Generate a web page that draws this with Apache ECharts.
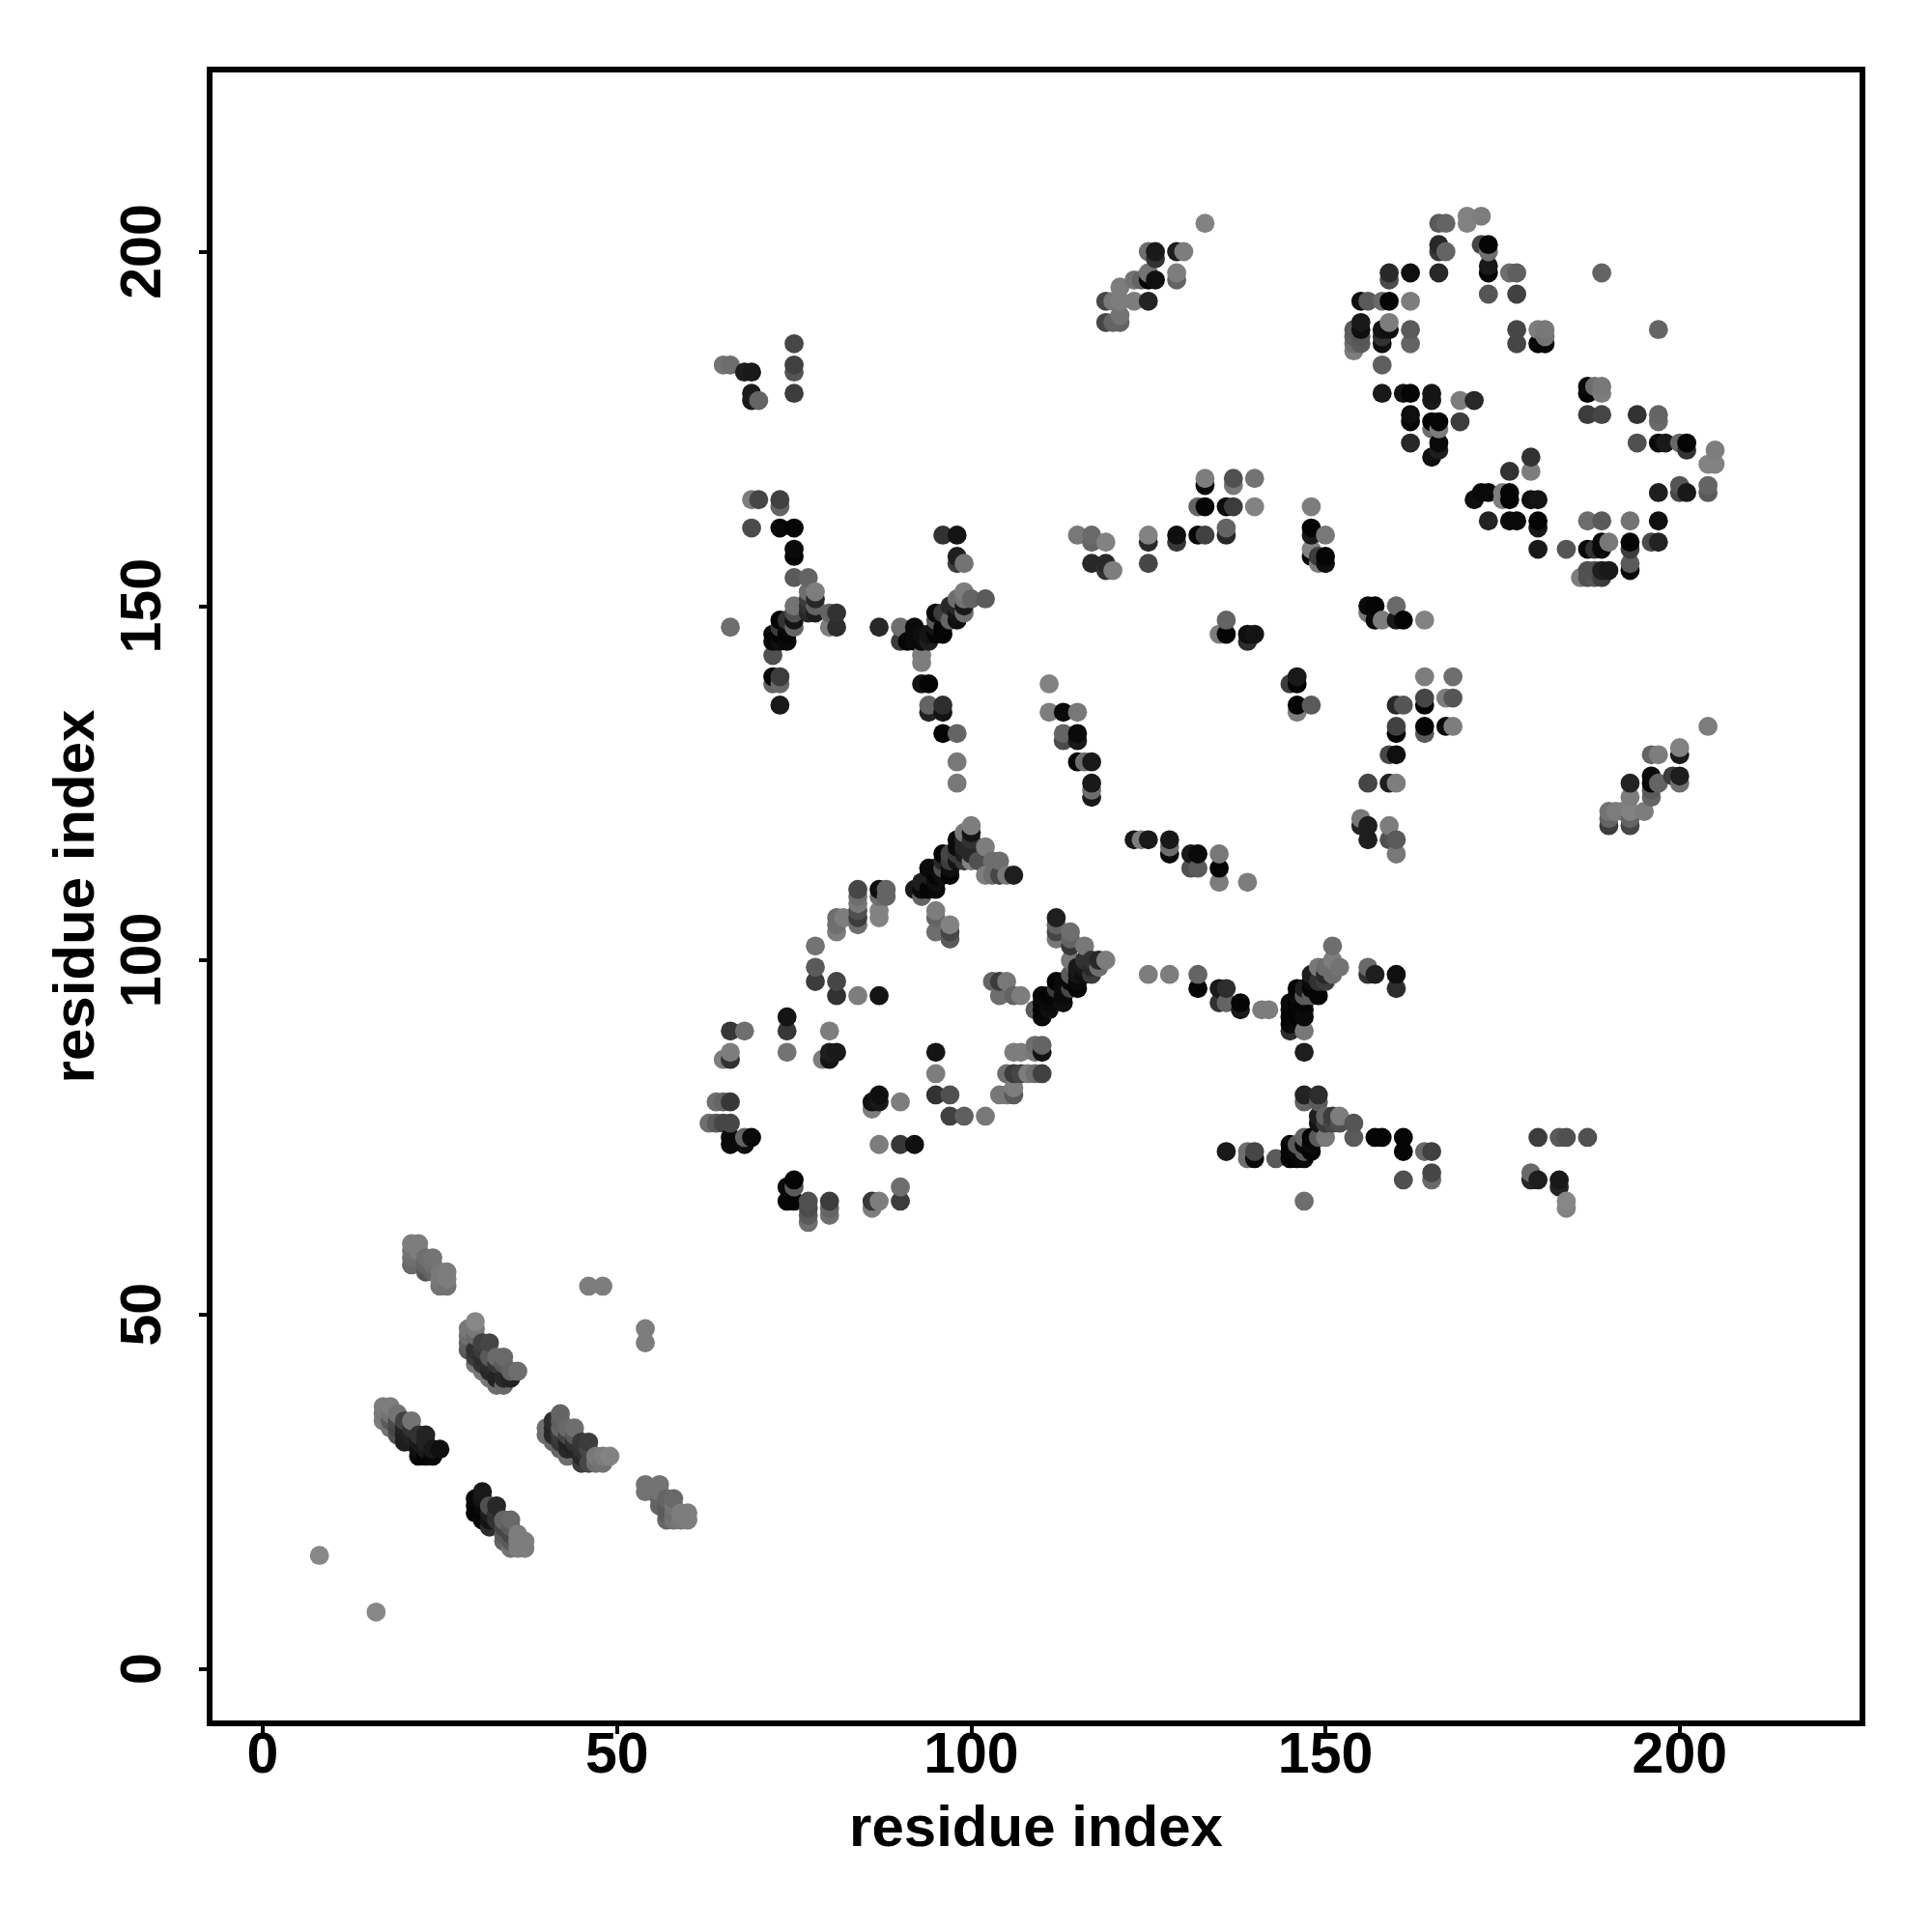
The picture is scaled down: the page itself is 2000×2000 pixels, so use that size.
<!DOCTYPE html>
<html><head><meta charset="utf-8">
<style>html,body{margin:0;padding:0;background:#fff}#c{width:2000px;height:2000px}</style>
<script src="https://cdn.jsdelivr.net/npm/echarts@6/dist/echarts.min.js"></script>
</head><body><div id="c"></div>
<script>
// [residue i, residue j, grey level]
const tickLabels = [0, 50, 100, 150, 200];
const axisTitle = 'residue index';
const singles = [[8,16,135],[16,8,135],[46,54,125],[48,54,125],[54,48,125],[54,46,125]];
const strand1 = [[21,57,105],[21,58,110],[21,59,115],[21,60,125],[22,60,125],[22,59,125],[23,56,85],[24,56,100],[23,57,100],[23,58,110],[24,57,110],[24,58,115],[25,54,115],[26,54,115],[25,55,120],[25,56,120],[26,55,125],[26,56,125]];
const strand2 = [[30,43,120],[31,42,120],[32,41,120],[33,40,110],[34,40,105],[29,45,90],[29,46,95],[29,47,110],[29,48,120],[30,44,60],[30,45,50],[31,43,50],[31,44,45],[32,43,45],[32,42,40],[33,41,35],[34,41,40],[35,41,35],[30,47,105],[30,48,120],[30,49,135],[31,45,60],[31,46,65],[32,46,70],[32,44,90],[33,43,55],[33,44,105],[34,44,105],[34,43,90],[35,42,100],[36,42,110]];
const strand3 = [[17,35,125],[18,34,115],[19,33,80],[17,36,120],[17,37,125],[18,37,125],[18,36,115],[18,35,90],[19,36,115],[19,34,70],[19,35,75],[20,32,30],[20,33,30],[20,34,35],[20,35,65],[21,35,115],[21,33,35],[21,34,50],[22,30,5],[23,30,5],[24,30,8],[21,32,30],[22,31,15],[22,32,25],[22,33,50],[23,33,35],[23,32,35],[23,31,25],[24,31,25],[25,31,15]];
const strand4 = [[40,33,110],[40,34,110],[41,32,105],[42,31,100],[43,30,110],[41,33,40],[41,34,40],[41,35,45],[42,33,60],[42,32,55],[42,34,100],[42,36,100],[42,35,95],[43,31,40],[43,32,35],[43,33,70],[43,34,105],[44,34,110],[44,33,90],[44,31,35],[44,32,50],[45,29,60],[45,30,40],[45,31,50],[46,29,70],[45,32,55],[46,32,60],[46,31,70],[47,29,110],[47,30,120],[48,29,115],[48,30,125],[49,30,130]];
const strand5 = [[54,25,115],[54,26,115],[55,25,115],[56,26,115],[56,25,115],[56,23,100],[56,24,100],[57,21,105],[57,22,90],[57,23,90],[57,24,100],[58,24,105],[58,23,115],[58,22,110],[58,21,115],[59,21,120],[59,22,125],[60,21,125],[60,22,125]];
const strand6 = [[30,22,5],[30,23,5],[30,24,8],[31,21,10],[31,22,5],[31,23,10],[31,25,25],[31,24,20],[32,20,45],[32,21,20],[32,22,30],[32,23,80],[33,21,50],[33,22,50],[33,23,40],[34,18,100],[34,19,90],[34,20,70],[34,21,100],[35,17,115],[35,18,90],[35,19,70],[35,20,90],[35,21,105],[36,17,125],[36,19,125],[36,18,125],[37,17,125],[37,18,125]];
const ringLow = [[84,110,70],[84,109,110],[84,108,120],[84,107,80],[84,106,60],[84,105,110],[87,110,15],[88,110,100],[88,109,100],[87,109,110],[87,107,130],[87,106,130],[81,106,110],[82,106,125],[81,105,110],[81,104,125],[95,107,125],[95,106,100],[95,104,110],[97,105,130],[97,104,70],[97,103,90],[78,102,115],[78,99,90],[78,97,60],[81,97,70],[81,95,50],[84,95,125],[87,95,20],[74,92,20],[74,90,55],[74,87,115],[66,90,55],[68,90,110],[66,87,125],[66,86,50],[65,86,125],[80,90,125],[80,87,30],[81,87,25],[79,86,125],[80,86,20],[95,87,20],[95,84,125],[95,81,50],[97,81,80],[97,78,65],[99,78,95],[102,78,120],[87,81,15],[86,80,15],[87,80,25],[90,80,125],[86,79,125],[66,80,55],[65,80,100],[64,80,110],[63,77,110],[64,77,90],[65,77,70],[66,77,70],[66,75,10],[66,74,10],[68,74,15],[68,75,100],[69,75,10],[87,74,125],[90,74,55],[92,74,15],[90,68,110],[90,66,60],[87,66,125],[86,66,55],[86,65,125],[75,69,5],[74,68,10],[75,68,90],[74,66,5],[75,66,5],[77,66,80],[77,65,75],[77,64,90],[77,63,110],[80,66,60],[80,65,100],[80,64,110]];
const ringTop = [[102,116,125],[103,114,110],[104,114,110],[102,112,125],[101,114,80],[103,112,110],[104,112,70],[105,112,120],[106,112,30],[92,110,25],[93,109,100],[93,110,10],[93,111,30],[94,110,5],[94,112,30],[94,113,10],[95,110,8],[95,111,15],[95,112,5],[95,113,10],[96,115,5],[96,114,40],[96,113,80],[96,112,15],[97,112,5],[97,113,15],[97,114,60],[97,115,70],[98,117,10],[98,116,10],[98,115,60],[98,114,20],[99,118,120],[99,117,40],[99,116,40],[99,115,30],[99,114,60],[100,119,125],[100,118,20],[100,117,50],[100,116,40],[100,115,40],[100,114,130]];
const ringRight = [[112,106,30],[112,105,100],[112,104,70],[112,103,120],[114,104,110],[114,103,100],[114,102,55],[116,102,120],[114,100,120],[119,100,125],[118,100,40],[117,100,50],[118,99,110],[116,100,50],[116,99,25],[115,99,25],[115,98,20],[117,98,60],[117,99,40],[116,98,15],[115,97,10],[115,96,5],[112,97,5],[113,97,10],[114,97,10],[113,96,10],[113,94,15],[112,95,8],[110,95,10],[110,94,5],[111,94,10],[111,93,15],[110,93,5],[109,93,90],[110,92,10],[114,98,90],[111,95,5],[112,96,60],[113,95,10],[114,96,70],[103,97,100],[104,97,60],[105,97,120],[104,95,110],[106,95,100],[107,95,125],[110,88,100],[109,88,110],[110,87,20],[106,87,125],[107,87,125],[109,87,120],[105,84,110],[106,84,60],[107,84,70],[108,84,125],[109,84,110],[110,84,65],[104,81,120],[105,81,120],[106,81,90],[106,82,125]];
const armLower = [[125,98,125],[128,98,125],[132,98,100],[132,96,5],[135,96,25],[136,96,45],[135,94,50],[136,94,100],[138,94,5],[138,93,25],[141,93,125],[142,93,125],[151,102,110],[151,100,125],[152,99,115],[150,99,110],[149,99,120],[148,98,30],[150,98,40],[151,98,110],[149,97,50],[150,97,60],[146,96,5],[149,95,5],[148,95,90],[147,96,30],[147,94,5],[148,97,10],[148,96,5],[146,95,10],[146,94,5],[147,95,90],[145,94,10],[145,93,5],[146,93,5],[147,93,10],[147,92,10],[146,92,5],[145,92,5],[145,91,10],[146,91,10],[145,90,45],[147,90,120],[147,87,30],[156,99,105],[156,98,50],[157,98,30],[160,98,15],[160,96,45],[147,81,35],[149,81,45],[147,80,100],[149,80,90],[152,78,125],[151,78,60],[150,77,60],[149,78,30],[149,77,20],[150,78,100],[152,77,80],[151,77,70],[154,77,85],[154,75,90],[157,75,5],[158,75,5],[161,75,5],[161,73,5],[164,73,105],[165,73,65],[161,69,80],[165,70,70],[165,69,105],[136,73,25],[139,73,110],[140,73,70],[139,72,110],[140,72,10],[143,72,90],[145,74,5],[145,73,5],[145,72,5],[146,72,5],[146,73,10],[146,74,90],[147,75,100],[148,75,5],[148,73,5],[148,74,10],[147,74,10],[147,73,90],[147,72,10],[149,75,90],[150,75,120],[180,75,60],[183,75,90],[184,75,80],[187,75,80],[179,70,105],[179,69,40],[180,69,30],[183,69,25],[183,68,35],[184,66,135],[184,65,130],[147,66,110]];
const armUpper = [[69,165,125],[70,165,70],[73,165,65],[73,164,100],[69,161,75],[73,161,8],[75,161,5],[75,158,10],[75,157,5],[75,154,90],[77,154,100],[78,152,125],[77,152,110],[78,151,40],[77,151,60],[77,150,50],[78,150,100],[77,149,40],[78,149,30],[75,150,115],[75,149,80],[75,148,20],[75,147,100],[73,148,5],[74,147,10],[72,146,5],[72,145,10],[73,146,5],[73,145,15],[73,147,60],[74,146,5],[74,148,50],[74,145,10],[72,143,80],[72,140,5],[73,140,60],[72,139,100],[73,139,105],[73,136,25],[66,147,110],[80,149,100],[81,149,50],[80,147,125],[81,147,45],[87,147,40],[90,147,110],[90,145,60],[91,145,5],[92,147,10],[92,146,10],[92,145,10],[93,145,10],[94,145,30],[94,146,20],[93,146,15],[95,147,20],[95,149,10],[96,146,5],[96,147,5],[95,146,5],[95,148,90],[96,149,60],[97,150,40],[97,148,100],[98,148,15],[98,151,110],[98,150,40],[98,149,20],[99,152,125],[99,151,115],[99,150,25],[99,149,110],[100,151,100],[102,151,90],[93,143,125],[93,142,125],[93,139,20],[94,139,5],[94,136,100],[96,136,45],[94,135,35],[96,135,20],[96,132,5],[98,132,100],[98,128,120],[98,125,120],[96,160,50],[98,160,20],[98,157,30],[98,156,60],[99,156,115],[65,184,115],[66,184,110],[68,183,30],[69,183,25],[69,180,25],[69,179,25],[70,179,100],[75,187,70],[75,184,65],[75,183,85],[75,180,60]];
const midLeft = [[111,139,130],[111,135,125],[113,135,10],[115,135,120],[113,132,100],[113,131,75],[115,132,10],[115,131,25],[115,128,5],[116,128,110],[117,128,25],[117,125,25],[117,124,110],[117,123,25],[123,117,25],[124,117,125],[125,117,25],[128,117,25],[128,116,110],[128,115,10],[131,115,25],[132,115,10],[131,113,80],[132,113,90],[135,115,120],[135,113,5],[135,111,125],[139,111,125]];
const midUpper = [[115,160,120],[117,160,105],[117,159,100],[119,159,130],[117,156,40],[119,156,40],[119,155,50],[120,155,125],[125,160,130],[125,159,40],[125,156,70],[129,160,15],[129,159,55],[132,160,5],[133,160,65],[136,161,100],[136,160,40],[133,168,125],[133,167,10],[137,168,80],[137,167,120],[140,168,115],[132,164,100],[133,164,5],[136,164,10],[137,164,60],[140,164,130],[148,164,125],[148,161,5],[148,160,25],[150,160,120],[148,158,130],[148,157,10],[149,157,60],[150,157,5],[150,156,15],[149,156,125],[156,150,10],[157,150,5],[156,149,120],[157,148,10],[158,148,125],[160,150,105],[160,148,25],[161,148,5],[164,148,130],[136,148,100],[135,146,125],[136,146,5],[139,146,15],[140,146,20],[139,145,45],[145,139,60],[146,140,25],[146,139,5],[146,136,5],[148,136,90],[146,135,125]];
const midRight = [[164,140,125],[168,140,110],[167,137,125],[168,137,85],[164,137,70],[164,136,5],[160,136,40],[161,136,85],[160,133,65],[160,132,5],[164,133,5],[164,132,90],[167,133,10],[168,133,125],[159,129,70],[160,129,15],[156,125,70],[159,125,30],[160,125,125],[155,120,120],[155,119,35],[156,119,30],[156,117,30],[159,119,125],[159,117,80],[160,117,90],[160,115,120]];
const farRight = [[204,133,125],[200,130,130],[200,129,25],[196,129,100],[197,129,125],[196,126,10],[196,125,5],[197,125,100],[199,126,60],[200,126,30],[200,125,110],[193,125,35],[193,123,125],[196,123,100],[195,121,125],[193,121,130],[192,121,125],[190,121,115],[191,121,125],[190,120,100],[193,120,100],[190,119,60],[193,119,70],[196,124,90]];
const topMid = [[133,204,130],[125,200,110],[126,200,25],[126,199,50],[129,200,30],[130,200,125],[125,197,115],[125,196,5],[126,196,15],[123,196,115],[124,196,100],[129,197,125],[129,196,100],[121,195,125],[119,193,70],[120,193,120],[121,193,125],[123,193,125],[125,193,35],[121,191,115],[119,190,70],[120,190,100],[121,190,100]];
const topRight = [[166,204,90],[167,204,100],[170,205,130],[170,204,130],[172,205,125],[166,201,40],[166,200,55],[167,200,100],[172,201,70],[173,201,5],[173,200,110],[173,198,25],[173,197,5],[159,197,40],[159,196,75],[162,197,15],[166,197,40],[176,197,110],[177,197,95],[189,197,100],[173,194,85],[177,194,65],[155,193,15],[156,193,90],[158,193,105],[159,193,5],[162,193,125],[155,190,25],[154,189,90],[154,188,95],[154,187,110],[154,186,125],[155,189,15],[155,188,85],[155,187,90],[159,190,125],[158,189,20],[159,189,15],[158,188,50],[158,187,15],[162,189,90],[162,187,100],[158,184,95],[177,189,70],[177,187,70],[180,189,125],[181,189,120],[180,187,5],[181,188,115],[181,187,5],[197,189,100],[158,180,25],[161,180,20],[162,180,5],[165,180,20],[165,179,25],[169,179,125],[171,179,40],[162,177,15],[162,176,5],[165,176,5],[166,176,5],[165,175,110],[166,175,125],[169,176,60],[162,173,40],[166,173,10],[166,172,30],[165,171,15],[179,171,50],[176,169,50],[179,169,125],[172,166,10],[173,166,10],[171,165,15],[175,166,125],[175,165,125],[176,166,5],[176,165,5],[179,165,15],[180,165,20],[173,162,35],[176,162,10],[177,162,10],[180,162,5],[180,161,25],[180,158,25],[184,158,85],[187,162,110],[189,162,90],[193,162,115],[197,162,15],[187,158,10],[188,158,50],[189,159,10],[189,158,10],[190,159,120],[193,159,5],[193,158,60],[196,159,75],[197,159,35],[193,156,90],[193,155,10],[187,155,80],[188,155,80],[189,155,30],[190,155,25],[186,154,125],[187,154,80],[188,154,85],[189,154,60],[187,181,10],[187,180,5],[188,181,110],[189,181,120],[189,180,125],[187,177,60],[189,177,70],[194,177,50],[197,177,100],[197,176,105],[194,173,80],[197,173,10],[198,173,25],[200,173,105],[201,173,5],[201,172,50],[205,172,125],[204,170,130],[205,170,130],[197,166,30],[200,167,85],[200,166,70],[201,166,25],[204,167,100],[204,166,90]];

const contacts = [].concat(singles,strand1,strand2,strand3,strand4,strand5,strand6,ringLow,ringTop,ringRight,armLower,armUpper,midLeft,midUpper,midRight,farRight,topMid,topRight)
  .sort((a,b)=>a[0]-b[0]||a[1]-b[1]);

const textStyle = {fontFamily:'"Liberation Sans"',fontWeight:'bold',fontSize:59,color:'#000'};
function axis(isY){
  return {
    type:'value',
    min:isY?-7.7:-7.5,
    max:isY?225.7:225.8,
    splitLine:{show:false},
    axisLine:{show:false,onZero:false},
    axisTick:{show:true,length:11,inside:false,lineStyle:{color:'#000',width:4},customValues:tickLabels},
    axisLabel:Object.assign({show:true,customValues:tickLabels,rotate:isY?90:0,margin:isY?67:35,align:'center',verticalAlign:'middle'},textStyle),
    name:axisTitle,
    nameLocation:'middle',
    nameGap:isY?137:110,
    nameRotate:isY?90:0,
    nameTextStyle:Object.assign({align:'center',verticalAlign:'middle'},textStyle,{fontSize:60})
  };
}
const chart = echarts.init(document.getElementById('c'),null,{renderer:'canvas'});
chart.setOption({
  animation:false,
  backgroundColor:'#fff',
  grid:{show:true,left:217,right:72,top:72,bottom:216,borderColor:'#000',borderWidth:6,backgroundColor:'transparent'},
  xAxis:axis(false),
  yAxis:axis(true),
  series:[{
    type:'scatter',
    silent:true,
    symbol:'circle',
    symbolSize:19.8,
    data:contacts,
    itemStyle:{opacity:1,color:p=>{const g=p.value[2];return 'rgb('+g+','+g+','+g+')';}}
  }]
});
</script></body></html>
